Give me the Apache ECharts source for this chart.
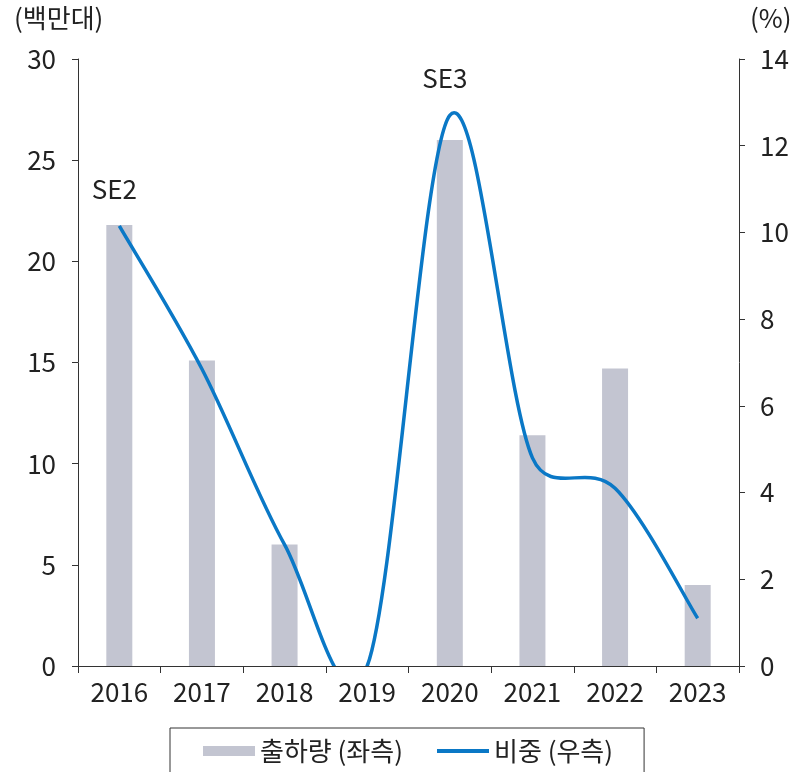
<!DOCTYPE html>
<html>
<head>
<meta charset="utf-8">
<script src="https://cdn.jsdelivr.net/npm/echarts@6/dist/echarts.min.js"></script>
<style>
  html, body { margin: 0; padding: 0; background: #fff; }
  #main { width: 807px; height: 772px; }
</style>
</head>
<body>
<div id="main"></div>
<script>
// 연도
var years = ['2016', '2017', '2018', '2019', '2020', '2021', '2022', '2023'];
// 출하량 (백만대, 좌측)
var shipments = [21.8, 15.1, 6.0, 0, 26.0, 11.4, 14.7, 4.0];
// 비중 (%, 우측)
var shares = [10.15, 6.85, 2.8, 0, 12.7, 4.8, 4.1, 1.1];
// 모델 라벨
var modelLabels = ['SE2', '', '', '', 'SE3', '', '', ''];

var FONT = 'Noto Sans CJK KR';
var LINE_COLOR = '#0a78c6';
var myChart = echarts.init(document.getElementById('main'));

// 엑셀식 부드러운 선 (이웃 점 기준 1/6 접선, 구간 길이 절반으로 제한)
function smoothPath(pts) {
  var n = pts.length;
  function tangent(i) {
    var p = pts[Math.max(i - 1, 0)], q = pts[Math.min(i + 1, n - 1)];
    return [(q[0] - p[0]) / 6, (q[1] - p[1]) / 6];
  }
  function limit(t, maxLen) {
    var len = Math.sqrt(t[0] * t[0] + t[1] * t[1]);
    if (len > maxLen && len > 0) return [t[0] * maxLen / len, t[1] * maxLen / len];
    return t;
  }
  var d = 'M' + pts[0][0] + ',' + pts[0][1];
  for (var i = 0; i < n - 1; i++) {
    var a = pts[i], b = pts[i + 1];
    var seg = Math.sqrt((b[0] - a[0]) * (b[0] - a[0]) + (b[1] - a[1]) * (b[1] - a[1]));
    var t0 = limit(tangent(i), seg / 2), t1 = limit(tangent(i + 1), seg / 2);
    d += 'C' + (a[0] + t0[0]) + ',' + (a[1] + t0[1]) + ' ' +
         (b[0] - t1[0]) + ',' + (b[1] - t1[1]) + ' ' + b[0] + ',' + b[1];
  }
  return d;
}

function renderLine(params, api) {
  var i = params.dataIndex;
  var children = [];
  if (i === 0) {
    var pts = shares.map(function (v, k) { return api.coord([k, v]); });
    children.push({
      type: 'path',
      shape: { pathData: smoothPath(pts) },
      style: { fill: 'none', stroke: LINE_COLOR, lineWidth: 3.5, lineJoin: 'round', lineCap: 'butt' }
    });
  }
  if (modelLabels[i]) {
    var p = api.coord([i, shares[i]]);
    children.push({
      type: 'text',
      x: p[0] - 5, y: p[1] - 37,
      style: { text: modelLabels[i], fill: '#222', font: '26px "Noto Sans CJK KR"', align: 'center', verticalAlign: 'middle' }
    });
  }
  return children.length ? { type: 'group', children: children } : null;
}

myChart.setOption({
  animation: false,
  textStyle: { fontFamily: FONT },
  graphic: [
    { type: 'text', left: 14, top: 5, style: { text: '(백만대)', fontSize: 26, fontFamily: FONT, fill: '#222' } },
    { type: 'text', left: 750, top: 5, style: { text: '(%)', fontSize: 26, fontFamily: FONT, fill: '#222' } }
  ],
  grid: { left: 78, right: 68, top: 59, bottom: 106, containLabel: false },
  legend: {
    left: 170, top: 728,
    padding: [10, 31, 20, 33],
    borderColor: '#333', borderWidth: 1,
    itemGap: 34, itemWidth: 52, itemHeight: 10,
    textStyle: { fontSize: 26, fontFamily: FONT, color: '#222' },
    data: [
      { name: '출하량 (좌측)', icon: 'rect' },
      { name: '비중 (우측)', icon: 'path://M0,0L0,0M0,3L52,3L52,7L0,7ZM52,10L52,10' }
    ]
  },
  xAxis: {
    type: 'category',
    data: years,
    boundaryGap: true,
    axisLine: { lineStyle: { color: '#333', width: 1 } },
    axisTick: { show: true, length: 7, lineStyle: { color: '#333' } },
    axisLabel: { fontSize: 26, color: '#222', margin: 13, fontFamily: FONT }
  },
  yAxis: [
    {
      type: 'value', min: 0, max: 30, interval: 5, position: 'left',
      splitLine: { show: false },
      axisLine: { show: true, lineStyle: { color: '#333' } },
      axisTick: { show: true, length: 6, lineStyle: { color: '#333' } },
      axisLabel: { fontSize: 26, color: '#222', margin: 22, fontFamily: FONT }
    },
    {
      type: 'value', min: 0, max: 14, interval: 2, position: 'right',
      splitLine: { show: false },
      axisLine: { show: true, lineStyle: { color: '#333' } },
      axisTick: { show: true, length: 6, lineStyle: { color: '#333' } },
      axisLabel: { fontSize: 26, color: '#222', margin: 21, fontFamily: FONT }
    }
  ],
  series: [
    {
      name: '출하량 (좌측)',
      type: 'bar',
      yAxisIndex: 0,
      barWidth: 26,
      z: 2,
      itemStyle: { color: '#c3c5d1' },
      data: shipments
    },
    {
      name: '비중 (우측)',
      type: 'custom',
      yAxisIndex: 1,
      clip: true,
      z: 5,
      itemStyle: { color: LINE_COLOR },
      encode: { x: 0, y: 1 },
      renderItem: renderLine,
      data: shares.map(function (v, i) { return [i, v]; })
    }
  ]
});
</script>
</body>
</html>
